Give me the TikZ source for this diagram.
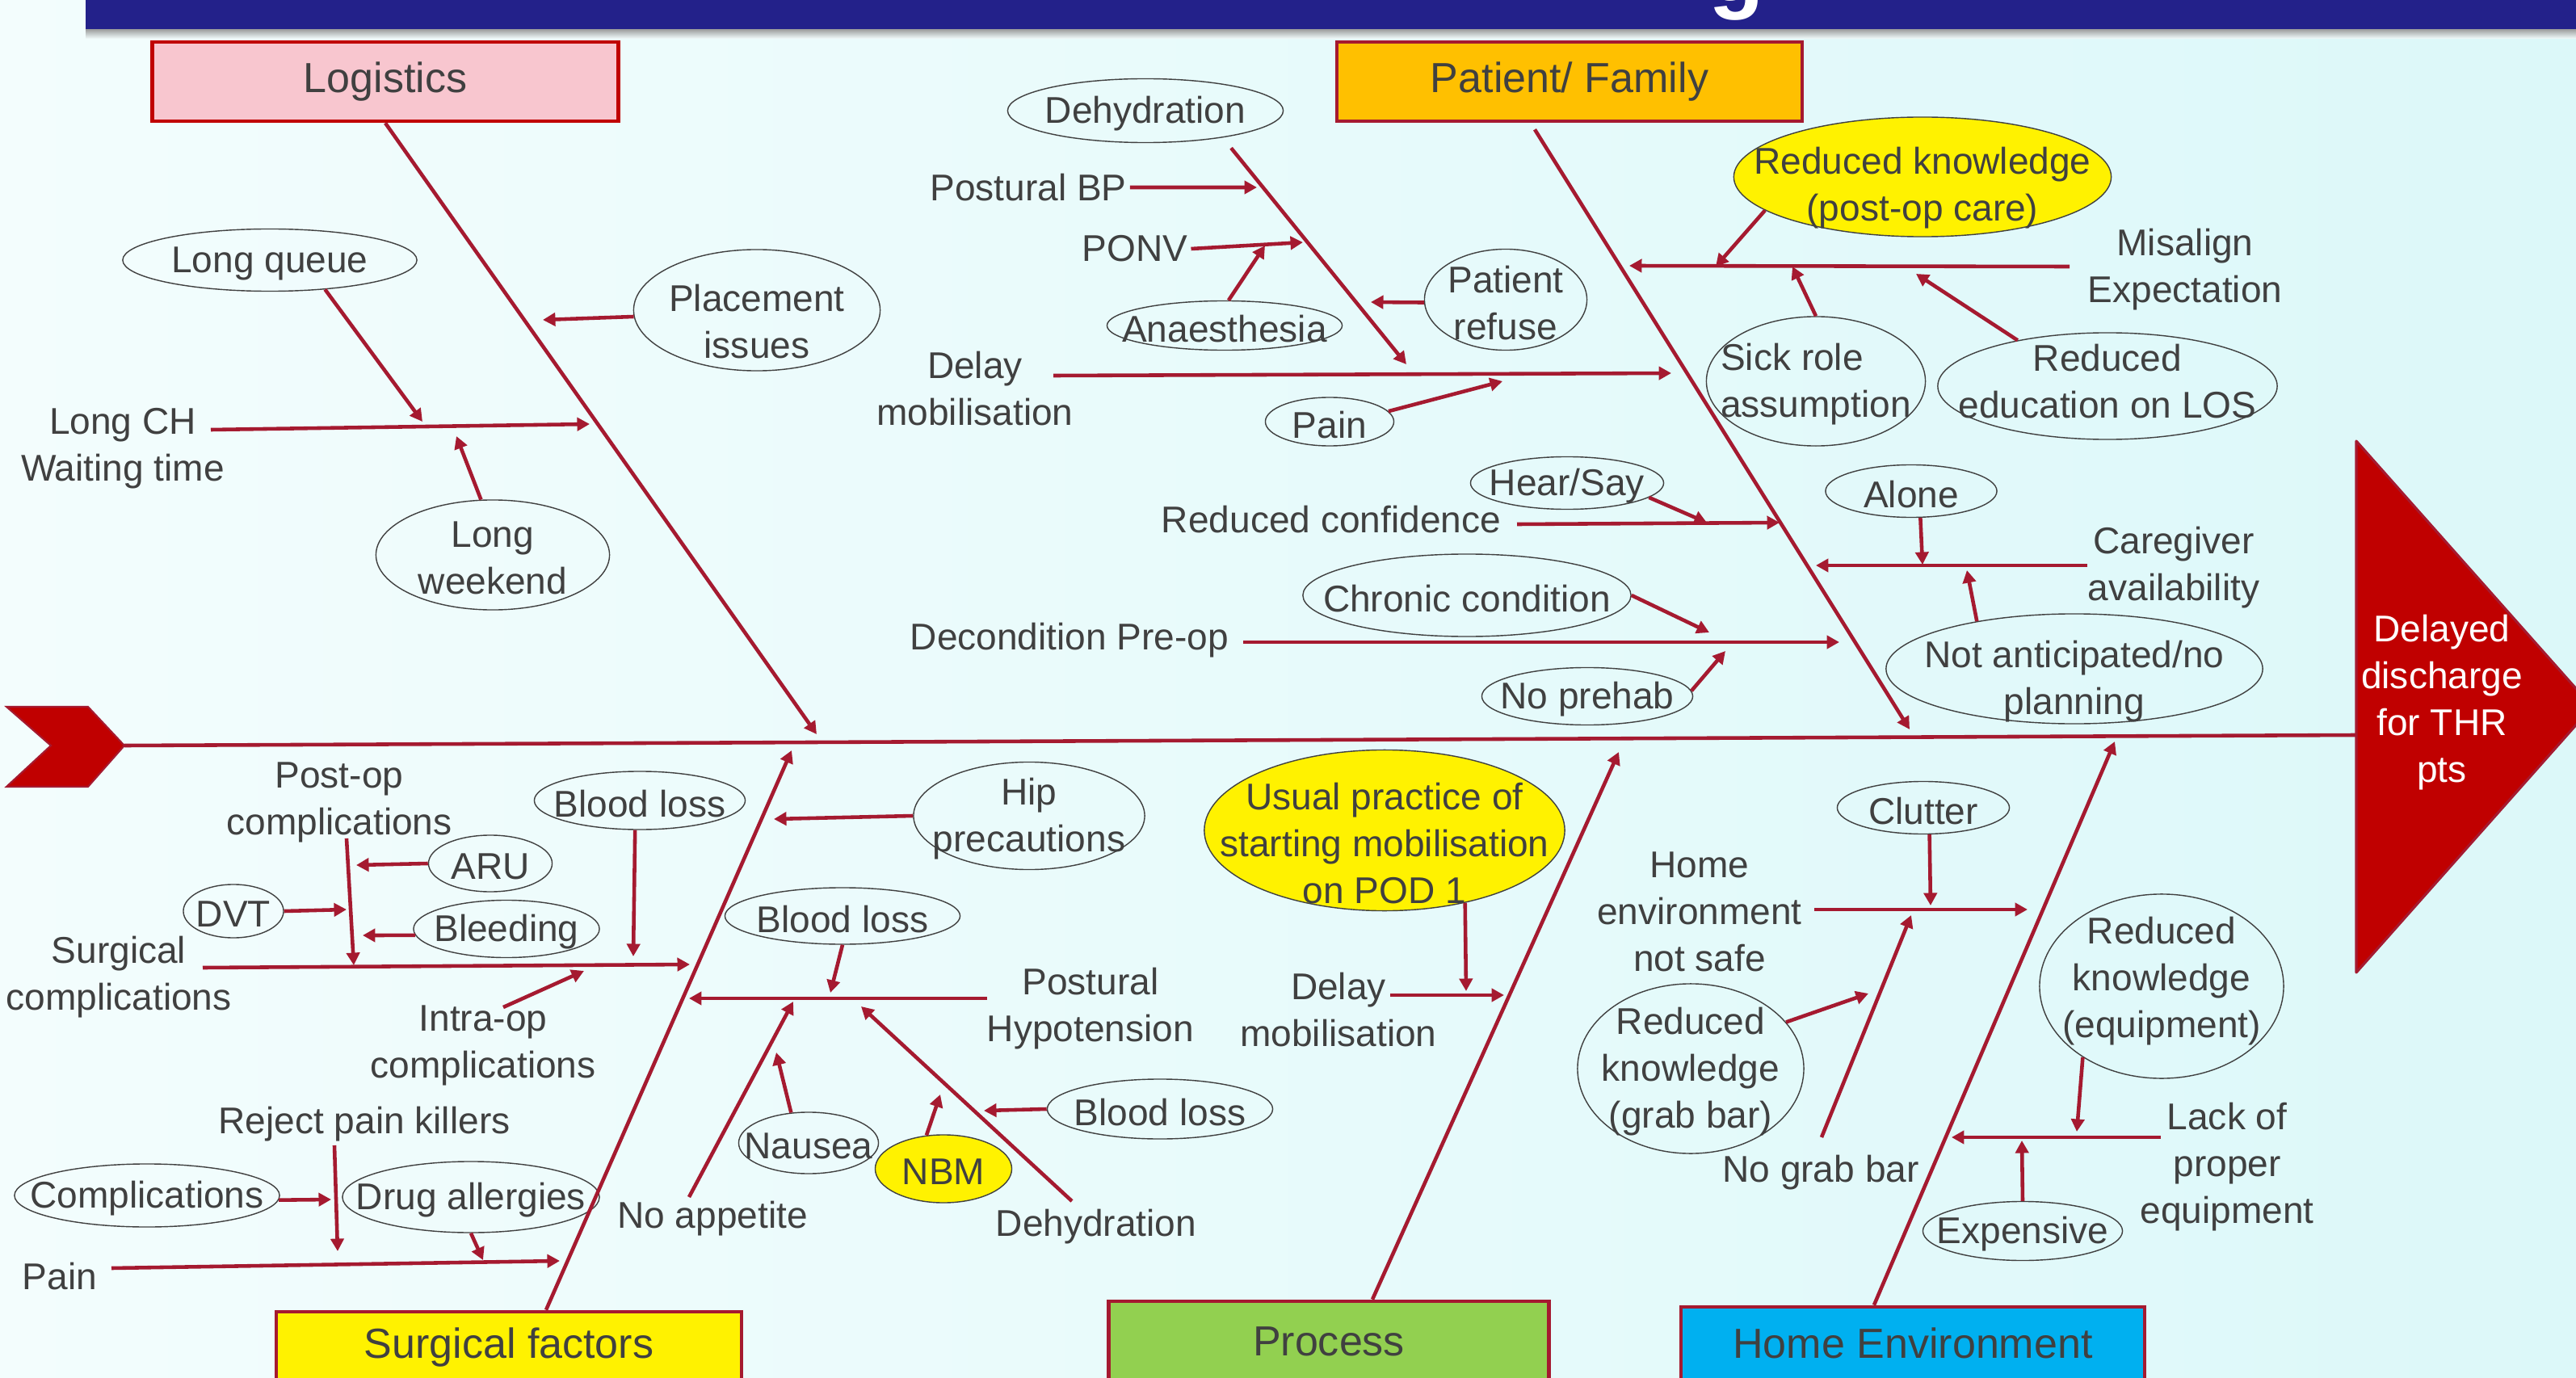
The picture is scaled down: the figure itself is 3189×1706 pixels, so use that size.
\documentclass[tikz,border=0pt]{standalone}
\usepackage{fontspec}
\setmainfont{Liberation Sans}
\usetikzlibrary{shapes.geometric,arrows.meta}

\definecolor{bgl}{HTML}{F3FDFD}
\definecolor{bgr}{HTML}{DCF8F9}
\definecolor{navy}{HTML}{23218A}
\definecolor{bonered}{HTML}{A51A30}
\definecolor{headred}{HTML}{C00000}
\definecolor{txtgrey}{HTML}{404040}
\definecolor{pinkbox}{HTML}{F8C6CF}
\definecolor{orangebox}{HTML}{FFC000}
\definecolor{greenbox}{HTML}{92D050}
\definecolor{bluebox}{HTML}{00B0F0}

\newcommand{\mainsz}{\fontsize{13.1pt}{16.5pt}\selectfont}
\newcommand{\catsz}{\fontsize{14.8pt}{17pt}\selectfont}

\begin{document}
\begin{tikzpicture}[x=0.01cm, y=-0.01cm,
  txt/.style={text=txtgrey, font=\mainsz, align=center, inner sep=1pt, yshift=-0.04cm},
  every label/.style={txt},
  oval/.style 2 args={draw=txtgrey, line width=0.4pt, ellipse, inner sep=0pt,
    minimum width=#1, minimum height=#2},
  yoval/.style 2 args={oval={#1}{#2}, fill=yellow},
  catbox/.style 2 args={draw=bonered, line width=1.3pt, text=txtgrey, font=\catsz,
    inner sep=0pt, minimum width=#1, minimum height=#2},
  bone/.style={draw=bonered, line width=1.3pt},
  arr/.style={bone, -{Triangle[length=4.4pt,width=4.6pt]}}]

  \useasboundingbox (0,0) rectangle (3189,1706);
  \shade[left color=bgl, right color=bgr] (0,0) rectangle (3189,1706);
  % title bar
  \shade[top color=black!45, bottom color=bgl] (106,34) rectangle (3189,48);
  \fill[navy] (106,0) rectangle (3189,36);
  \begin{scope}
    \clip (106,0) rectangle (3189,36);
    \node[white, font={\fontsize{32pt}{32pt}\selectfont\bfseries}, anchor=base, inner sep=0pt] (ttl) at (2150,2) {g};
  \end{scope}

  % tail, head and spine
  \filldraw[fill=headred, draw=bonered, line width=0.6pt] (8,875) -- (109,875) -- (154,923) -- (109,974) -- (8,974) -- (63,923) -- cycle;
  \filldraw[fill=headred, draw=bonered, line width=0.9pt, line join=round] (2917,546) -- (3209,875) -- (2917,1204) -- cycle;
  \node[white, font=\mainsz, align=center, inner sep=0pt] (head) at (3023,870) {Delayed\\discharge\\for THR\\pts};
  \coordinate (tail) at (154,923);
  \coordinate (nose) at (2917,910);
  \draw[bone] (tail) -- (nose);

  % categories
  \node[catbox={5.77cm}{0.98cm}, fill=pinkbox, draw=headred] (lg) at (477,101) {Logistics};
  \node[catbox={5.76cm}{0.98cm}, fill=orangebox] (pf) at (1943,101) {Patient/ Family};
  \node[catbox={5.76cm}{0.88cm}, fill=yellow] (sf) at (630,1668) {Surgical factors};
  \node[catbox={5.45cm}{1.00cm}, fill=greenbox] (ps) at (1645,1661) {Process};
  \node[catbox={5.74cm}{0.90cm}, fill=bluebox] (he) at (2368,1663) {Home Environment};

  % logistics
  \node[txt] (lch) at (152,551) {Long CH\\Waiting time};
  \node[oval={3.64cm}{0.77cm}, label=center:Long queue] (lq) at (334,322) {};
  \node[oval={2.89cm}{1.36cm}, label=center:{Long\\weekend}] (lw) at (610,687) {};
  \node[oval={3.05cm}{1.50cm}, label={[yshift=-0.1cm]center:{Placement\\issues}}] (pi) at (937,384) {};
  \foreach \n/\x/\y in {lg-t/1011/909, lch-s/261/532, lch-t/730/525,
      lq-t/523/522, lw-t/565/540, pi-t/672/396}
    \coordinate (\n) at (\x,\y);
  \draw[arr] (lg.south) -- (lg-t);
  \draw[arr] (lch-s) -- (lch-t);
  \draw[arr] (lq.-28) -- (lq-t);
  \draw[arr] (lw.102) -- (lw-t);
  \draw[arr] (pi.183) -- (pi-t);

  % patient / family
  \node[oval={3.41cm}{0.79cm}, label=center:Dehydration] (dh) at (1418,137) {};
  \node[txt] (pbp) at (1273,228) {Postural BP};
  \node[txt] (ponv) at (1405,304) {PONV};
  \node[oval={2.91cm}{0.61cm}, label=center:Anaesthesia] (an) at (1516,403) {};
  \node[oval={2.01cm}{1.25cm}, label=center:{Patient\\refuse}] (pr) at (1864,371) {};
  \node[txt] (dm) at (1207,477) {Delay\\mobilisation};
  \node[oval={1.59cm}{0.60cm}, label=center:Pain] (pn) at (1646,522) {};
  \node[oval={2.39cm}{0.65cm}, label=center:Hear/Say] (hs) at (1940,598) {};
  \node[txt] (rc) at (1648,639) {Reduced confidence};
  \node[oval={4.06cm}{1.02cm}, label=center:Chronic condition] (cc) at (1816,737) {};
  \node[txt] (dp) at (1324,789) {Decondition Pre-op};
  \node[oval={2.61cm}{0.71cm}, label=center:No prehab] (np) at (1965,862) {};
  \node[yoval={4.67cm}{1.48cm}, label={[yshift=-0.1cm]center:{Reduced knowledge\\(post-op care)}}] (rk) at (2380,219) {};
  \node[txt] (me) at (2705,330) {Misalign\\Expectation};
  \node[oval={2.71cm}{1.60cm}, label={[align=left]center:Sick role\\assumption}] (sr) at (2248,472) {};
  \node[oval={4.20cm}{1.32cm}, label={[yshift=0.1cm]center:{Reduced\\education on LOS}}] (re) at (2609,478) {};
  \node[oval={2.12cm}{0.65cm}, label=center:Alone] (al) at (2366,608) {};
  \node[txt] (ca) at (2691,699) {Caregiver\\availability};
  \node[oval={4.66cm}{1.36cm}, label={[yshift=-0.12cm]center:{Not anticipated/no\\planning}}] (na) at (2568,828) {};
  \foreach \n/\x/\y in {pf-t/2364/903, dh-t/1741/451, pbp-t/1556/232, ponv-t/1613/300,
      an-t/1566/304, pr-t/1697/374, dm-s/1304/465, dm-t/2069/462, pn-t/1860/472,
      rc-s/1878/649, rc-t/2203/647, hs-t/2113/647, dp-s/1539/795, dp-t/2277/795,
      cc-t/2116/783, np-t/2136/806, me-s/2562/330, me-t/2017/329, rk-t/2124/330,
      sr-t/2219/330, re-t/2372/339, ca-s/2584/700, ca-t/2248/700, al-t/2380/699,
      na-t/2435/706}
    \coordinate (\n) at (\x,\y);
  \draw[arr] ([xshift=-0.43cm, yshift=-0.08cm]pf.south) -- (pf-t);
  \draw[arr] ([xshift=1.06cm, yshift=-0.06cm]dh.south) -- (dh-t);
  \draw[arr] (pbp.east) -- (pbp-t);
  \draw[arr] (ponv.east) -- (ponv-t);
  \draw[arr] (an.81) -- (an-t);
  \draw[arr] (pr.182) -- (pr-t);
  \draw[arr] (dm-s) -- (dm-t);
  \draw[arr] (pn.10) -- (pn-t);
  \draw[arr] (rc-s) -- (rc-t);
  \draw[arr] (hs.-10) -- (hs-t);
  \draw[arr] (dp-s) -- (dp-t);
  \draw[arr] (cc.0) -- (cc-t);
  \draw[arr] (np.3) -- (np-t);
  \draw[arr] (me-s) -- (me-t);
  \draw[arr] (rk.192) -- (rk-t);
  \draw[arr] (sr.90) -- (sr-t);
  \draw[arr] (re.153) -- (re-t);
  \draw[arr] (ca-s) -- (ca-t);
  \draw[arr] (al.-71) -- (al-t);
  \draw[arr] (na.154) -- (na-t);

  % surgical factors
  \node[txt] (poc) at (420,989) {Post-op\\complications};
  \node[oval={1.53cm}{0.70cm}, label=center:ARU] (ar) at (607,1069) {};
  \node[oval={1.24cm}{0.66cm}, label=center:DVT] (dv) at (289,1128) {};
  \node[oval={2.30cm}{0.71cm}, label=center:Bleeding] (bl) at (627,1150) {};
  \node[oval={2.61cm}{0.72cm}, label=center:Blood loss] (b1) at (792,991) {};
  \node[txt] (sc) at (147,1206) {Surgical\\complications};
  \node[txt] (ioc) at (598,1290) {Intra-op\\complications};
  \node[txt] (rpk) at (451,1388) {Reject pain killers};
  \node[oval={3.28cm}{0.78cm}, label=center:Complications] (cp) at (182,1480) {};
  \node[oval={3.18cm}{0.88cm}, label=center:Drug allergies] (da) at (583,1482) {};
  \node[txt] (pa) at (74,1576) {Pain};
  \node[oval={2.86cm}{1.33cm}, label=center:{Hip\\precautions}] (hp) at (1274,1010) {};
  \node[oval={2.91cm}{0.70cm}, label=center:Blood loss] (b2) at (1043,1134) {};
  \node[txt] (ph) at (1350,1245) {Postural\\Hypotension};
  \node[txt] (nap) at (882,1505) {No appetite};
  \node[oval={1.73cm}{0.76cm}, label=center:Nausea] (ns) at (1001,1415) {};
  \node[yoval={1.69cm}{0.84cm}, label=center:NBM] (nb) at (1168,1447) {};
  \node[oval={2.79cm}{0.74cm}, label=center:Blood loss] (b3) at (1436,1373) {};
  \node[txt] (dh2) at (1357,1515) {Dehydration};
  \foreach \n/\x/\y in {sf-t/980/929, poc-s/429/1038, poc-t/438/1195, ar-t/441/1071,
      dv-t/429/1126, bl-t/449/1158, b1-t/784/1184, sc-s/251/1198, sc-t/854/1194,
      ioc-s/623/1247, ioc-t/723/1202, rpk-s/414/1418, rpk-t/418/1549, cp-t/410/1485,
      da-t/598/1560, pa-s/138/1570, pa-t/693/1561, hp-t/958/1014, ph-s/1222/1236,
      ph-t/853/1236, b2-t/1028/1229, nap-s/853/1482, nap-t/982/1240, ns-t/961/1303,
      nb-t/1164/1355, dh2-s/1327/1487, dh2-t/1066/1246, b3-t/1218/1375}
    \coordinate (\n) at (\x,\y);
  \draw[arr] ([xshift=0.46cm]sf.north) -- (sf-t);
  \draw[arr] (poc-s) -- (poc-t);
  \draw[arr] (ar.180) -- (ar-t);
  \draw[arr] (dv.0) -- (dv-t);
  \draw[arr] (bl.184) -- (bl-t);
  \draw[arr] (b1.-99) -- (b1-t);
  \draw[arr] (sc-s) -- (sc-t);
  \draw[arr] (ioc-s) -- (ioc-t);
  \draw[arr] (rpk-s) -- (rpk-t);
  \draw[arr] (cp.-2) -- (cp-t);
  \draw[arr] (da.-90) -- (da-t);
  \draw[arr] (pa-s) -- (pa-t);
  \draw[arr] (hp.180) -- (hp-t);
  \draw[arr] (ph-s) -- (ph-t);
  \draw[arr] (b2.-90) -- (b2-t);
  \draw[arr] (nap-s) -- (nap-t);
  \draw[arr] (ns.120) -- (ns-t);
  \draw[arr] (nb.117) -- (nb-t);
  \draw[arr] (dh2-s) -- (dh2-t);
  \draw[arr] (b3.180) -- (b3-t);

  % process
  \node[yoval={4.46cm}{1.99cm}, label={[yshift=-0.12cm]center:{Usual practice of\\starting mobilisation\\on POD 1}}] (up) at (1714,1028) {};
  \node[txt] (dm2) at (1657,1246) {Delay\\mobilisation};
  \foreach \n/\x/\y in {ps-t/2004/931, up-t/1815/1227, dm2-s/1721/1232, dm2-t/1862/1232}
    \coordinate (\n) at (\x,\y);
  \draw[arr] ([xshift=0.54cm]ps.north) -- (ps-t);
  \draw[arr] (up.-42) -- (up-t);
  \draw[arr] (dm2-s) -- (dm2-t);

  % home environment
  \node[oval={2.13cm}{0.65cm}, label=center:Clutter] (cl) at (2381,1000) {};
  \node[txt] (hen) at (2104,1125) {Home\\environment\\not safe};
  \node[oval={2.80cm}{2.10cm}, label=center:{Reduced\\knowledge\\(grab bar)}] (kg) at (2093,1323) {};
  \node[txt] (ngb) at (2254,1448) {No grab bar};
  \node[oval={3.02cm}{2.28cm}, label={[yshift=0.1cm]center:{Reduced\\knowledge\\(equipment)}}] (ke) at (2676,1221) {};
  \node[txt] (lpe) at (2757,1441) {Lack of\\proper\\equipment};
  \node[oval={2.47cm}{0.73cm}, label=center:Expensive] (ex) at (2504,1524) {};
  \foreach \n/\x/\y in {he-t/2618/918, cl-t/2390/1121, hen-s/2246/1126, hen-t/2510/1126,
      kg-t/2313/1230, ngb-s/2255/1408, ngb-t/2366/1133, ke-t/2571/1401,
      lpe-s/2675/1408, lpe-t/2416/1408, ex-t/2503/1412}
    \coordinate (\n) at (\x,\y);
  \draw[arr] ([xshift=-0.48cm]he.north) -- (he-t);
  \draw[arr] (cl.-77) -- (cl-t);
  \draw[arr] (hen-s) -- (hen-t);
  \draw[arr] (kg.26) -- (kg-t);
  \draw[arr] (ngb-s) -- (ngb-t);
  \draw[arr] (ke.222) -- (ke-t);
  \draw[arr] (lpe-s) -- (lpe-t);
  \draw[arr] (ex.90) -- (ex-t);
\end{tikzpicture}
\end{document}
